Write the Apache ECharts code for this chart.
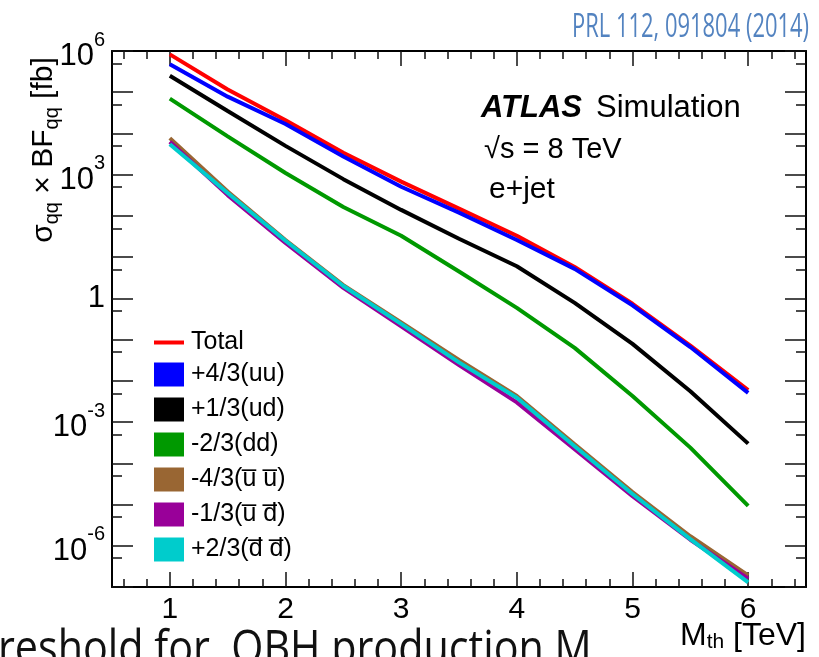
<!DOCTYPE html>
<html>
<head>
<meta charset="utf-8">
<script src="https://cdn.jsdelivr.net/npm/echarts@6/dist/echarts.min.js"></script>
<style>
  html, body { margin: 0; padding: 0; background: #fff; }
  #chart { width: 819px; height: 657px; }
</style>
</head>
<body>
<div id="chart"></div>
<script>
// Threshold mass points [TeV]
const massPoints = [1, 1.5, 2, 2.5, 3, 3.5, 4, 4.5, 5, 5.5, 6];

// sigma x BF [fb] per charge / flavour channel
const total  = [8.3e5, 1.17e5, 2.1e4, 3.4e3, 6.8e2, 1.5e2, 33, 5.8, 0.74, 0.072, 6.0e-3];
const uu     = [4.8e5, 7.8e4, 1.7e4, 2.75e3, 5.1e2, 1.2e2, 26, 5.2, 0.68, 0.066, 5.1e-3];
const ud     = [2.5e5, 3.5e4, 5.0e3, 7.8e2, 1.4e2, 28, 6.0, 0.78, 0.079, 5.6e-3, 3.0e-4];
const dd     = [7.0e4, 8.5e3, 1.1e3, 1.64e2, 33, 4.5, 0.59, 0.063, 4.3e-3, 2.4e-4, 9.3e-6];
const ubarub = [7.7e3, 3.9e2, 26, 2.1, 0.26, 0.032, 4.3e-3, 2.9e-4, 2.0e-5, 1.7e-6, 1.9e-7];
const ubardb = [6.3e3, 3.2e2, 22, 1.8, 0.21, 0.024, 3.0e-3, 2.2e-4, 1.6e-5, 1.4e-6, 1.6e-7];
const dbardb = [5.5e3, 3.6e2, 25, 2.0, 0.24, 0.028, 3.9e-3, 2.6e-4, 1.8e-5, 1.45e-6, 1.3e-7];

const seriesNames = ['Total', '+4/3(uu)', '+1/3(ud)', '-2/3(dd)',
  '-4/3(u\u0305 u\u0305)', '-1/3(u\u0305 d\u0305)', '+2/3(d\u0305 d\u0305)'];
const seriesData = [total, uu, ud, dd, ubarub, ubardb, dbardb];
const seriesColors = ['#ff0000', '#0000ff', '#000000', '#009900', '#996633', '#990099', '#00cccc'];

// Axis tick positions
const xMajor = [1, 2, 3, 4, 5, 6];
const yLabelValues = [1e-6, 1e-3, 1, 1e3, 1e6];

const FONT = '"Liberation Sans", Arial, Helvetica, sans-serif';
const SLIDE_FONT = '"Open Sans", sans-serif';

const xMinor = [];
for (let k = 3; k <= 32; k++) {
  if (k % 5 !== 0) xMinor.push(+(k * 0.2).toFixed(1));
}
const yDecades = [], yHalf = [];
for (let e = -7; e <= 6; e++) {
  yDecades.push(Math.pow(10, e));
  if (e > -7) yHalf.push(5 * Math.pow(10, e - 1));
}

// "10^n" labels: the zero-width strut makes the line box taller so that
// mantissa and exponent together sit centred on the tick
function powerLabel(v) {
  const e = Math.round(Math.log10(v));
  if (e === 0) return '{one|1}';
  return '{h|\u200b}{n|10}{s|' + (e < 0 ? '-' + (-e) : e) + '}';
}

const frameLine = { show: true, lineStyle: { color: '#000', width: 2 } };
const tickStyle = { color: '#111', width: 1.5 };

function xAxisDef(pos, ticks, len, withLabels, line) {
  return {
    type: 'value', position: pos, min: 0.5, max: 6.5,
    gridIndex: 0,
    axisLine: line ? frameLine : { show: false },
    splitLine: { show: false },
    axisTick: { show: true, inside: true, length: len, customValues: ticks, lineStyle: tickStyle },
    axisLabel: withLabels ? {
      show: true, customValues: xMajor, margin: 8,
      fontFamily: FONT, fontSize: 30, color: '#000',
      formatter: v => String(v)
    } : { show: false }
  };
}

function yAxisDef(pos, ticks, len, withLabels, line) {
  return {
    type: 'log', logBase: 10, position: pos, min: 1e-7, max: 1e6,
    gridIndex: 0,
    axisLine: line ? frameLine : { show: false },
    splitLine: { show: false },
    axisTick: { show: true, inside: true, length: len, customValues: ticks, lineStyle: tickStyle },
    axisLabel: withLabels ? {
      show: true, customValues: yLabelValues, margin: 7,
      formatter: powerLabel,
      rich: {
        one: { fontFamily: FONT, fontSize: 31, color: '#000', lineHeight: 32 },
        h: { fontFamily: FONT, fontSize: 10, color: '#000', lineHeight: 42 },
        n: { fontFamily: FONT, fontSize: 31, color: '#000', lineHeight: 32, verticalAlign: 'bottom' },
        s: { fontFamily: FONT, fontSize: 20, color: '#000', lineHeight: 26, verticalAlign: 'top' }
      }
    } : { show: false }
  };
}

const chart = echarts.init(document.getElementById('chart'), null, { renderer: 'canvas' });

const series = seriesNames.map((name, i) => ({
  name: name,
  type: 'line',
  xAxisIndex: 0,
  yAxisIndex: 0,
  data: massPoints.map((m, j) => [m, seriesData[i][j]]),
  showSymbol: false,
  symbol: 'none',
  smooth: false,
  color: seriesColors[i],
  itemStyle: { color: seriesColors[i] },
  lineStyle: { color: seriesColors[i], width: 4 },
  emphasis: { disabled: true },
  z: 2 + i
}));

chart.setOption({
  animation: false,
  backgroundColor: '#ffffff',
  grid: { left: 112, top: 51, width: 694, height: 536, containLabel: false },
  xAxis: [
    xAxisDef('bottom', xMajor, 15, true, true),
    xAxisDef('bottom', xMinor, 8, false, false),
    xAxisDef('top', xMajor, 15, false, true),
    xAxisDef('top', xMinor, 8, false, false)
  ],
  yAxis: [
    yAxisDef('left', yDecades, 21, true, true),
    yAxisDef('left', yHalf, 10, false, false),
    yAxisDef('right', yDecades, 21, false, true),
    yAxisDef('right', yHalf, 10, false, false)
  ],
  legend: [
    {
      data: [seriesNames[0]],
      orient: 'vertical', left: 154, top: 330, padding: 0,
      icon: 'rect', itemWidth: 30, itemHeight: 4,
      textStyle: { fontFamily: FONT, fontSize: 25, color: '#000', padding: [0, 0, 0, 2] },
      selectedMode: false
    },
    {
      data: seriesNames.slice(1),
      orient: 'vertical', left: 154, top: 362, padding: 0,
      icon: 'rect', itemWidth: 30, itemHeight: 24, itemGap: 10,
      textStyle: { fontFamily: FONT, fontSize: 25, color: '#000', padding: [0, 0, 0, 2] },
      selectedMode: false
    }
  ],
  graphic: [
    {
      type: 'text', x: 572, y: 11, scaleX: 0.665,
      style: { text: 'PRL 112, 091804 (2014)', fontFamily: SLIDE_FONT, fontSize: 33, fill: '#5383c0' }
    },
    {
      type: 'text', x: 44, y: 150, rotation: Math.PI / 2,
      style: {
        text: '{n|\u03c3}{b|qq}{n| \u00d7 BF}{b|qq}{n| [fb]}',
        align: 'center', verticalAlign: 'middle',
        rich: {
          n: { fontFamily: FONT, fontSize: 30, fill: '#000', lineHeight: 36 },
          b: { fontFamily: FONT, fontSize: 20, fill: '#000', lineHeight: 16, verticalAlign: 'bottom' }
        }
      }
    },
    {
      type: 'text', x: 806, y: 619,
      style: {
        text: '{n|M}{b|th}{n| [TeV]}',
        align: 'right', verticalAlign: 'top',
        rich: {
          n: { fontFamily: FONT, fontSize: 32, fill: '#000', lineHeight: 34 },
          b: { fontFamily: FONT, fontSize: 21, fill: '#000', lineHeight: 14, verticalAlign: 'bottom' }
        }
      }
    },
    {
      type: 'text', x: 481, y: 108,
      style: {
        text: 'ATLAS', verticalAlign: 'middle',
        fontFamily: FONT, fontSize: 31, fontWeight: 'bold', fontStyle: 'italic', fill: '#000'
      }
    },
    {
      type: 'text', x: 596, y: 108,
      style: { text: 'Simulation', verticalAlign: 'middle', fontFamily: FONT, fontSize: 31, fill: '#000' }
    },
    {
      type: 'text', x: 484, y: 150,
      style: { text: '\u221as = 8 TeV', fontFamily: FONT, fontSize: 29, fill: '#000', verticalAlign: 'middle' }
    },
    {
      type: 'text', x: 489, y: 190,
      style: { text: 'e+jet', fontFamily: FONT, fontSize: 30, fill: '#000', verticalAlign: 'middle' }
    },
    {
      type: 'text', x: -2, y: 626, scaleX: 0.86,
      style: { text: 'reshold for  QBH production M', fontFamily: SLIDE_FONT, fontSize: 48, fill: '#111' }
    }
  ],
  series: series
});
</script>
</body>
</html>
